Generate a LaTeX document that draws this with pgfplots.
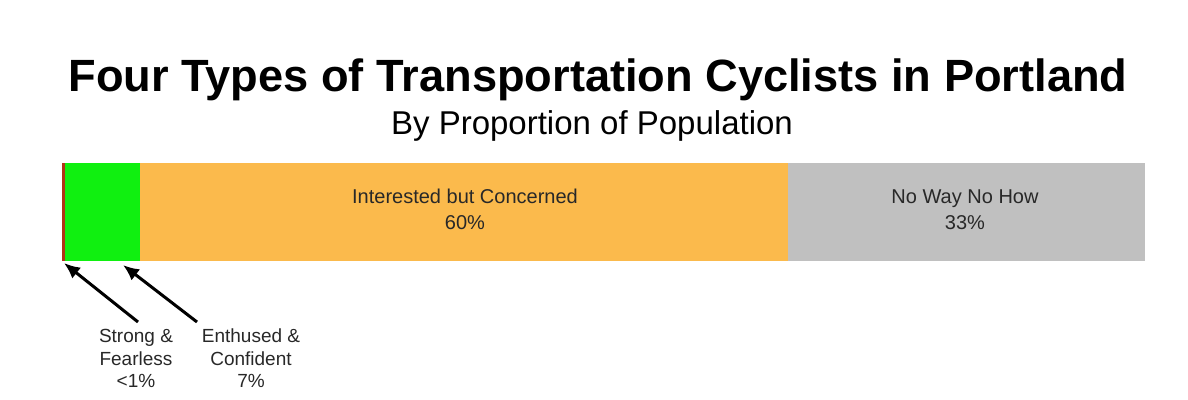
\documentclass[border=0pt]{standalone}
\usepackage{pgfplots}
\pgfplotsset{compat=1.18}
\usepackage{fontspec}
\setmainfont{Liberation Sans}
\usetikzlibrary{arrows.meta}
\definecolor{sfred}{RGB}{176,52,24}
\definecolor{ecgreen}{RGB}{16,240,16}
\definecolor{icorange}{RGB}{251,186,76}
\definecolor{nwgray}{RGB}{192,192,192}
\definecolor{txt}{RGB}{40,40,40}
\begin{document}
\begin{tikzpicture}
% canvas: 1 px = 0.5pt, origin at top-left
\path (0pt,0pt) rectangle (594pt,-200pt);
\node[anchor=base,font=\fontsize{22.6}{26}\selectfont\bfseries] at (299pt,-46pt) {Four Types of Transportation Cyclists in Portland};
\node[anchor=base,font=\fontsize{16.5}{20}\selectfont] at (296pt,-67.5pt) {By Proportion of Population};
\begin{axis}[
  at={(31pt,-130.5pt)}, anchor=south west,
  scale only axis, width=541.5pt, height=49pt,
  xbar stacked, bar width=49pt,
  xmin=0, xmax=100, ymin=0.5, ymax=1.5,
  hide axis, clip=false,
]
\addplot[fill=sfred, draw=none] coordinates {(0.3,1)};
\addplot[fill=ecgreen, draw=none] coordinates {(6.9,1)};
\addplot[fill=icorange, draw=none] coordinates {(59.8,1)};
\addplot[fill=nwgray, draw=none] coordinates {(33.0,1)};
\end{axis}
\begin{scope}[font=\fontsize{10}{12}\selectfont, text=txt]
\node[anchor=base] at (232.5pt,-102pt) {Interested but Concerned};
\node[anchor=base] at (232.5pt,-115pt) {60\%};
\node[anchor=base] at (482.5pt,-102pt) {No Way No How};
\node[anchor=base] at (482.5pt,-115pt) {33\%};
\end{scope}
\draw[line width=1.5pt, -{Latex[length=8pt,width=7pt]}] (69pt,-161pt) -- (32pt,-131.5pt);
\draw[line width=1.5pt, -{Latex[length=8pt,width=7pt]}] (98.5pt,-161pt) -- (61.5pt,-132.5pt);
\begin{scope}[font=\fontsize{9.5}{11}\selectfont, text=txt]
\node[anchor=base] at (68pt,-171.5pt) {Strong \&};
\node[anchor=base] at (68pt,-182.5pt) {Fearless};
\node[anchor=base] at (68pt,-193.5pt) {<1\%};
\node[anchor=base] at (125.5pt,-171.5pt) {Enthused \&};
\node[anchor=base] at (125.5pt,-182.5pt) {Confident};
\node[anchor=base] at (125.5pt,-193.5pt) {7\%};
\end{scope}
\end{tikzpicture}
\end{document}
